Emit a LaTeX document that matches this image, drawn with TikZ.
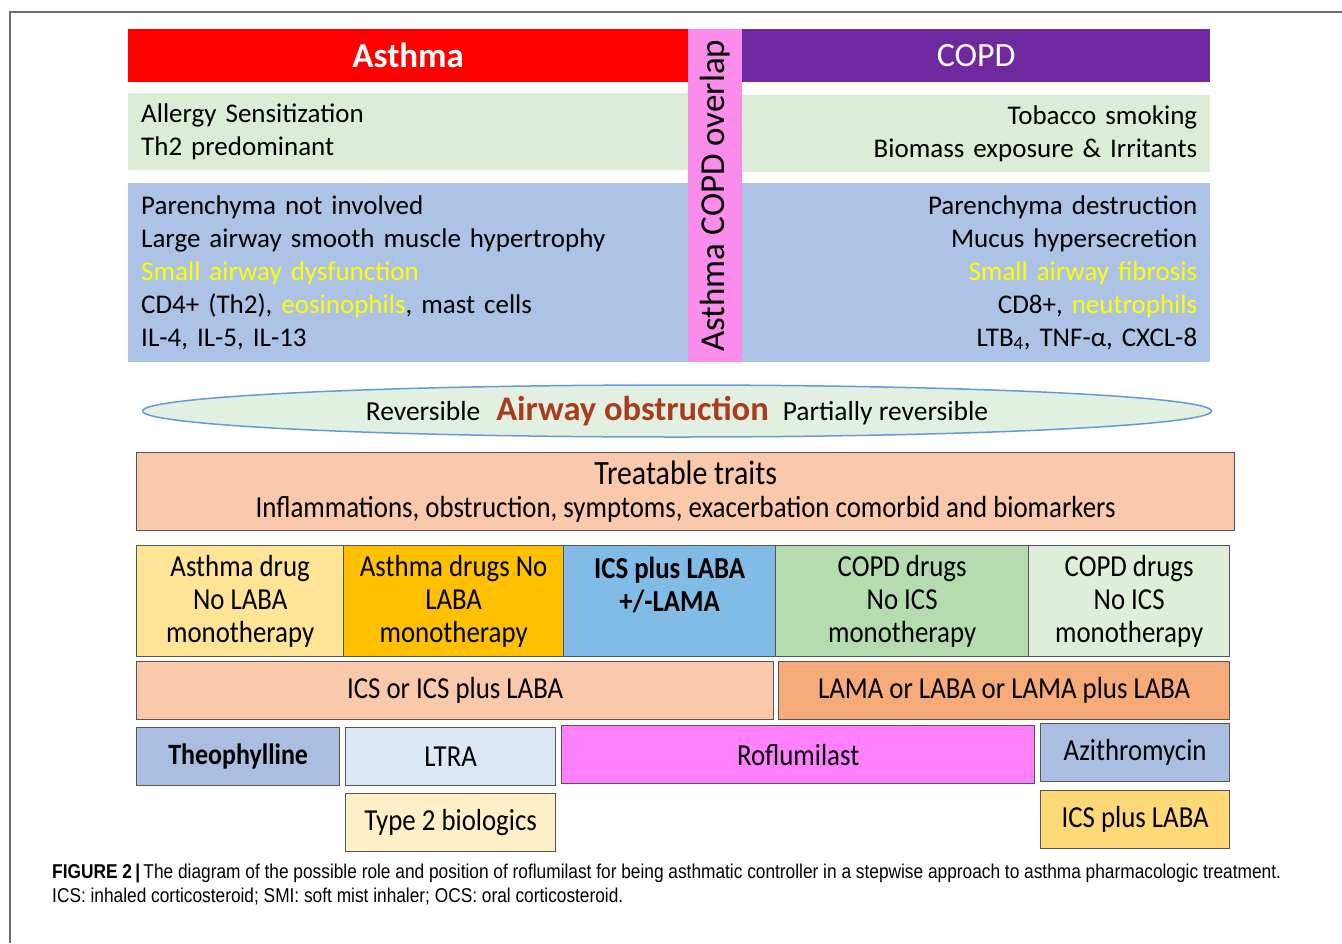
\documentclass[tikz,border=0pt]{standalone}
\usepackage{fontspec}
\setmainfont{Carlito}
\newfontfamily\condfont{Carlito}[FakeStretch=0.88]
\newfontfamily\capfont{Liberation Sans}[FakeStretch=0.865]
\usetikzlibrary{positioning,shapes.geometric}

\definecolor{asthmared}{RGB}{255,0,0}
\definecolor{copdpurple}{RGB}{112,40,160}
\definecolor{overlappink}{RGB}{250,140,235}
\definecolor{bandgreen}{RGB}{221,236,214}
\definecolor{bandblue}{RGB}{173,195,230}
\definecolor{hiyellow}{RGB}{255,255,0}
\definecolor{ellgreen}{RGB}{226,240,226}
\definecolor{ellblue}{RGB}{100,155,215}
\definecolor{obsbrown}{RGB}{170,60,30}
\definecolor{traitpeach}{RGB}{250,200,170}
\definecolor{drugyellow}{RGB}{255,228,150}
\definecolor{druggold}{RGB}{255,192,0}
\definecolor{drugblue}{RGB}{128,188,230}
\definecolor{druggreen}{RGB}{180,220,175}
\definecolor{drugpale}{RGB}{222,238,216}
\definecolor{lamaorange}{RGB}{245,170,120}
\definecolor{theoblue}{RGB}{170,190,225}
\definecolor{ltrablue}{RGB}{220,232,245}
\definecolor{roflupink}{RGB}{255,128,255}
\definecolor{biocream}{RGB}{255,240,200}
\definecolor{icsyellow}{RGB}{255,217,120}
\definecolor{boxline}{RGB}{85,85,85}
\definecolor{framegray}{RGB}{110,110,110}

\newcommand{\hl}[1]{\textcolor{hiyellow}{#1}}

\begin{document}
\begin{tikzpicture}[
        x=1pt, y=-1pt,
        every node/.style={inner sep=0pt, anchor=north west},
        header/.style={minimum height=53pt, text=white, font=\fontsize{34}{40}\selectfont},
        band/.style={inner xsep=13pt, font=\fontsize{27}{33}\selectfont},
        cell/.style={draw=boxline, line width=1.3pt, align=center, font=\condfont\fontsize{30.5}{33}\selectfont},
        celltall/.style={cell, minimum height=111pt},
        cellrow/.style={cell, minimum height=58pt}
    ]
    \useasboundingbox (0,0) rectangle (1342,943);

    % Frame
    \draw[framegray, line width=1.2pt] (10,943) -- (10,12) -- (1342,12);

    % Headers
    \node[header, fill=asthmared, minimum width=560pt, font=\fontsize{35}{40}\selectfont\bfseries] (asthma) at (128,29) {Asthma};
    \node[header, fill=copdpurple, minimum width=468pt] (copd) at (742,29) {COPD};
    \node[fill=overlappink, minimum width=54pt, minimum height=333pt] (overlap) at (688,29) {};
    \node[anchor=center, rotate=90, font=\fontsize{35}{40}\selectfont] (overlaptext) at (overlap.center) {Asthma COPD overlap};

    % Risk factors
    \node[band, fill=bandgreen, text width=534pt, minimum height=77pt, align=left] (allergy) at (128,93)
        {Allergy Sensitization\\ Th2 predominant};
    \node[band, fill=bandgreen, text width=442pt, minimum height=77pt, align=right] (tobacco) at (742,95)
        {Tobacco smoking\\ Biomass exposure \& Irritants};

    % Pathology
    \node[band, fill=bandblue, text width=534pt, minimum height=179pt, align=left] (asthmacells) at (128,183)
        {Parenchyma not involved\\ Large airway smooth muscle hypertrophy\\ \hl{Small airway dysfunction}\\
         CD4+ (Th2), \hl{eosinophils}, mast cells\\ IL-4, IL-5, IL-13};
    \node[band, fill=bandblue, text width=442pt, minimum height=179pt, align=right] (copdcells) at (742,183)
        {Parenchyma destruction\\ Mucus hypersecretion\\ \hl{Small airway fibrosis}\\
         CD8+, \hl{neutrophils}\\ LTB\textsubscript{4}, TNF-α, CXCL-8};

    % Airway obstruction
    \node[ellipse, anchor=center, draw=ellblue, line width=1.5pt, fill=ellgreen, minimum width=1069pt, minimum height=52pt,
          font=\fontsize{27.5}{30}\selectfont] (obstruction) at (677,411)
        {Reversible\hspace{16pt}{\fontsize{34.5}{38}\selectfont\bfseries\color{obsbrown}Airway obstruction}\hspace{14pt}Partially reversible};

    % Treatable traits
    \node[cell, fill=traitpeach, minimum width=1098pt, minimum height=78pt, font=\condfont\fontsize{30.5}{33}\selectfont] (traits) at (136,452)
        {{\fontsize{34}{33}\selectfont Treatable traits}\\ Inflammations, obstruction, symptoms, exacerbation comorbid and biomarkers};

    % Drug classes
    \node[celltall, fill=drugyellow, minimum width=207pt] (asthmadrug) at (136,545) {Asthma drug\\ No LABA\\ monotherapy};
    \node[celltall, fill=druggold, minimum width=220pt] (asthmadrugs) at (343,545) {Asthma drugs No\\ LABA\\ monotherapy};
    \node[celltall, fill=drugblue, minimum width=212pt, font=\condfont\fontsize{30.5}{33}\selectfont\bfseries] (icslama) at (563,545) {ICS plus LABA\\ +/-LAMA\\ ~};
    \node[celltall, fill=druggreen, minimum width=253pt] (copddrugs) at (775,545) {COPD drugs\\ No ICS\\ monotherapy};
    \node[celltall, fill=drugpale, minimum width=201pt] (copddrugspale) at (1028,545) {COPD drugs\\ No ICS\\ monotherapy};

    % Maintenance
    \node[cellrow, fill=traitpeach, minimum width=637pt] (icsany) at (136,661) {ICS or ICS plus LABA};
    \node[cellrow, fill=lamaorange, minimum width=451pt] (lama) at (778,661) {LAMA or LABA or LAMA plus LABA};

    % Add-on
    \node[cellrow, fill=theoblue, minimum width=203pt, font=\condfont\fontsize{29.5}{33}\selectfont\bfseries] (theo) at (136,727) {Theophylline};
    \node[cellrow, fill=ltrablue, minimum width=210pt] (ltra) at (345,727) {LTRA};
    \node[cellrow, fill=roflupink, minimum width=473pt] (roflu) at (561,725) {Roflumilast};
    \node[cellrow, fill=theoblue, minimum width=189pt] (azithro) at (1040,723) {Azithromycin};
    \node[cellrow, fill=biocream, minimum width=210pt] (biologics) at (345,793) {Type 2 biologics};
    \node[cellrow, fill=icsyellow, minimum width=189pt] (icslaba) at (1040,790) {ICS plus LABA};

    % Caption
    \node[anchor=base west, font=\capfont\fontsize{20}{24}\selectfont] (caption) at (52,878)
        {\textbf{FIGURE 2\,|}\,The diagram of the possible role and position of roflumilast for being asthmatic controller in a stepwise approach to asthma pharmacologic treatment.};
    \node[anchor=base west, font=\capfont\fontsize{20}{24}\selectfont] (captionb) at (52,902)
        {ICS: inhaled corticosteroid; SMI: soft mist inhaler; OCS: oral corticosteroid.};
\end{tikzpicture}
\end{document}
